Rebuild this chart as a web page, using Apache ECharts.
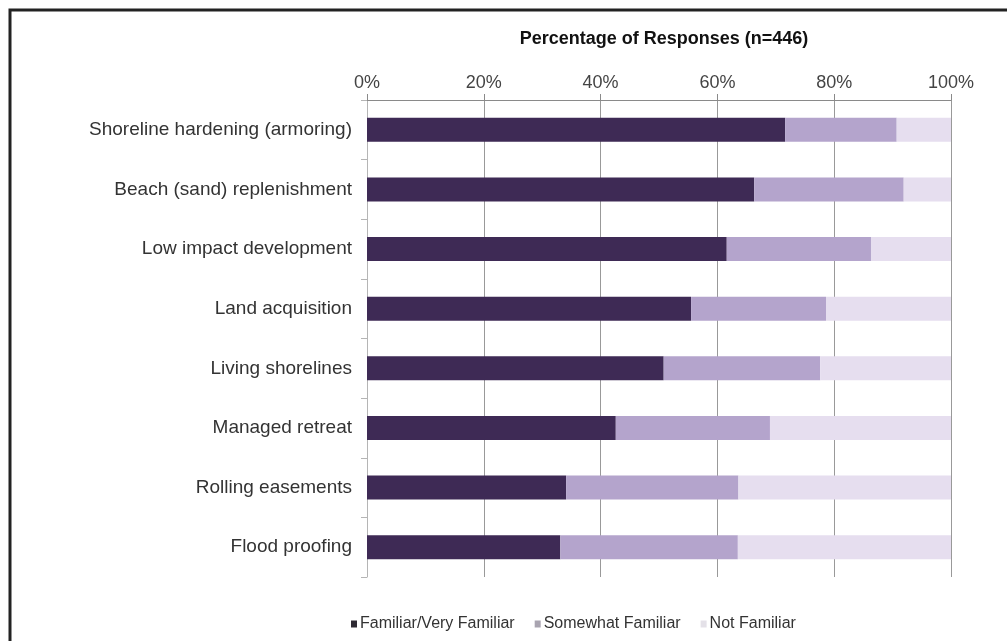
<!DOCTYPE html>
<html>
<head>
<meta charset="utf-8">
<title>Familiarity with shoreline strategies</title>
<script src="https://cdn.jsdelivr.net/npm/echarts@6/dist/echarts.min.js"></script>
<style>
  html, body { margin: 0; padding: 0; background: #fff; }
  #chart { width: 1007px; height: 641px; }
</style>
</head>
<body>
<div id="chart"></div>
<script>
// Strategies, top to bottom
const categories = [
    'Shoreline hardening (armoring)',
    'Beach (sand) replenishment',
    'Low impact development',
    'Land acquisition',
    'Living shorelines',
    'Managed retreat',
    'Rolling easements',
    'Flood proofing'
];

// Percent of responses per familiarity level
const familiarValues = [71.6, 66.3, 61.6, 55.5, 50.8, 42.6, 34.1, 33.1];
const somewhatValues = [19.1, 25.6, 24.7, 23.1, 26.8, 26.4, 29.5, 30.4];
const notFamiliarValues = [9.3, 8.1, 13.7, 21.4, 22.4, 31.0, 36.4, 36.5];

const seriesNames = ['Familiar/Very Familiar', 'Somewhat Familiar', 'Not Familiar'];
const xTicks = [0, 20, 40, 60, 80, 100];

const colors = ['#3e2a55', '#b4a4cc', '#e6deef'];
const legendColors = ['#2e2a33', '#a9a4b0', '#e4e1e8'];
const textColor = '#333';
const axisColor = '#8a8a8a';
const fontFamily = '"Liberation Sans", Arial, sans-serif';

const chart = echarts.init(document.getElementById('chart'));

const seriesData = [familiarValues, somewhatValues, notFamiliarValues];
const series = seriesNames.map((name, i) => ({
    name: name,
    type: 'bar',
    stack: 'total',
    barWidth: 24,
    itemStyle: { color: colors[i] },
    emphasis: { disabled: true },
    data: seriesData[i]
}));

const option = {
    backgroundColor: '#fff',
    animation: false,
    textStyle: { fontFamily: fontFamily },
    title: {
        text: 'Percentage of Responses (n=446)',
        left: 659,
        top: 25,
        textAlign: 'center',
        textStyle: { fontFamily: fontFamily, fontSize: 18, fontWeight: 'bold', color: '#111' }
    },
    legend: {
        data: seriesNames.map((name, i) => ({ name: name, itemStyle: { color: legendColors[i] } })),
        left: 346,
        top: 611,
        icon: 'rect',
        itemWidth: 6,
        itemHeight: 7,
        itemGap: 20,
        textStyle: { fontFamily: fontFamily, fontSize: 16, color: textColor, padding: [0, 0, 0, -2] }
    },
    grid: {
        left: 367,
        right: 56,
        top: 100,
        bottom: 64,
        containLabel: false
    },
    xAxis: {
        type: 'value',
        position: 'top',
        min: xTicks[0],
        max: xTicks[xTicks.length - 1],
        interval: 20,
        axisLine: { show: true, lineStyle: { color: axisColor, width: 1 } },
        axisTick: { show: true, length: 6, lineStyle: { color: axisColor } },
        axisLabel: {
            formatter: '{value}%',
            fontFamily: fontFamily,
            fontSize: 18,
            color: '#444',
            margin: 8
        },
        splitLine: { show: true, lineStyle: { color: '#999', width: 1 } }
    },
    yAxis: {
        type: 'category',
        data: categories,
        inverse: true,
        axisLine: { show: true, lineStyle: { color: '#b5b5b5', width: 1 } },
        axisTick: { show: true, length: 6, lineStyle: { color: '#b5b5b5' } },
        axisLabel: {
            fontFamily: fontFamily,
            fontSize: 19,
            color: textColor,
            margin: 15
        },
        splitLine: { show: false }
    },
    graphic: [
        {
            type: 'polyline',
            shape: { points: [[10, 641], [10, 10], [1007, 10]] },
            style: { stroke: '#222', lineWidth: 3, fill: null },
            silent: true
        }
    ],
    series: series
};

chart.setOption(option);
window.addEventListener('resize', () => chart.resize());
</script>
</body>
</html>
